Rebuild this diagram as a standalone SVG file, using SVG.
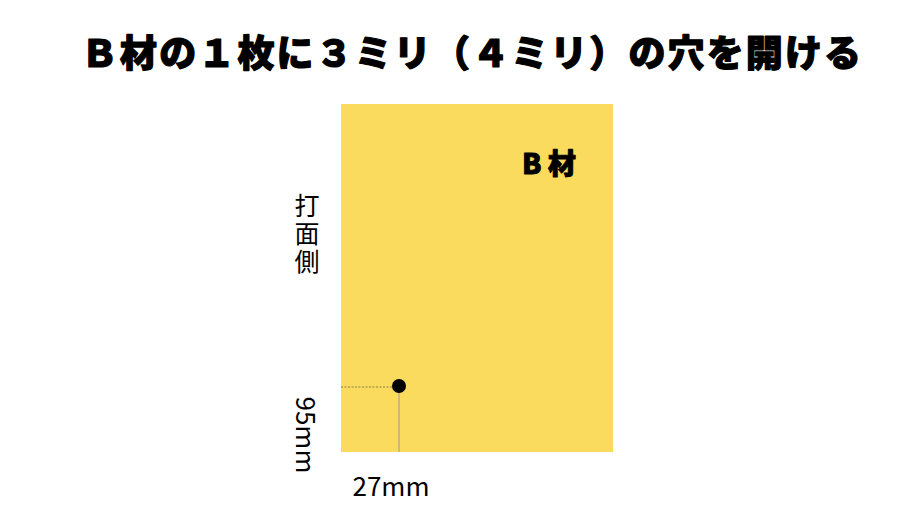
<svg xmlns="http://www.w3.org/2000/svg" width="900" height="506" viewBox="0 0 900 506">
<style>
.t{font-family:"Noto Sans CJK JP","Noto Sans",sans-serif;fill:#000}
.b{font-weight:900;stroke:#000;stroke-width:1.2px;stroke-linejoin:round}
</style>
<rect width="900" height="506" fill="#fff"/>
<text class="t b" x="81" y="67" font-size="37" textLength="780" lengthAdjust="spacing">Ｂ材の１枚に３ミリ（４ミリ）の穴を開ける</text>
<g id="board">
<rect x="341" y="104" width="272" height="348" fill="#FBDB5E"/>
<text class="t b" x="549" y="174" font-size="28" text-anchor="middle" style="stroke-width:0.9px">B 材</text>
</g>
<g id="side-label">
<text class="t" x="307" y="193" font-size="25" style="writing-mode:vertical-rl;letter-spacing:3px">打面側</text>
</g>
<g id="connectors">
<line x1="341" y1="387" x2="393" y2="387" stroke="#8a7a40" stroke-width="1" stroke-dasharray="2,1.5"/>
<line x1="399" y1="390" x2="399" y2="452" stroke="#9a9a8a" stroke-width="1"/>
</g>
<g id="hole">
<circle cx="399" cy="386" r="7" fill="#000"/>
</g>
<g id="dims">
<text class="t" x="391" y="496" font-size="26" text-anchor="middle">27mm</text>
<text class="t" transform="translate(296,435) rotate(90)" font-size="26" text-anchor="middle">95mm</text>
</g>
</svg>
